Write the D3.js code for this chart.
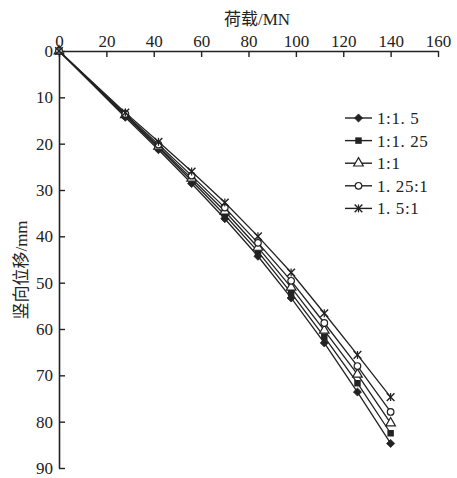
<!DOCTYPE html>
<html>
<head>
	<meta charset="utf-8">
	<title>荷载-竖向位移</title>
	<script src="https://d3js.org/d3.v7.min.js" charset="utf-8"></script>
	<style>
		body { margin: 0; background: #fff; }
		svg text { font-family: "Liberation Serif", "Noto Sans CJK SC", serif; fill: #222; }
	</style>
</head>
<body>
	<script>
		// load (MN) at each step
		var loads = [0, 28, 42, 56, 70, 84, 98, 112, 126, 140];

		// vertical displacement (mm) for each ratio
		var s1 = [0, 14.3, 21.3, 28.6, 36.2, 44.3, 53.3, 63.0, 73.6, 84.7];  // 1:1.5
		var s2 = [0, 14.0, 20.9, 28.0, 35.4, 43.3, 52.2, 61.7, 71.7, 82.5];  // 1:1.25
		var s3 = [0, 13.8, 20.6, 27.5, 34.6, 42.4, 51.0, 60.3, 69.8, 80.3];  // 1:1
		var s4 = [0, 13.6, 20.2, 26.9, 33.8, 41.4, 49.6, 58.7, 68.0, 77.9];  // 1.25:1
		var s5 = [0, 13.3, 19.6, 26.0, 32.7, 40.0, 47.8, 56.6, 65.6, 74.7];  // 1.5:1

		var seriesNames = ["1:1. 5", "1:1. 25", "1:1", "1. 25:1", "1. 5:1"];
		var seriesSymbols = ["diamond", "square", "triangle", "circle", "star"];

		var xTicks = [0, 20, 40, 60, 80, 100, 120, 140, 160];
		var yTicks = [0, 10, 20, 30, 40, 50, 60, 70, 80, 90];

		var series = [s1, s2, s3, s4, s5].map(function(vals, i) {
			return {
				name: seriesNames[i],
				symbol: seriesSymbols[i],
				points: vals.map(function(v, j) { return {load: loads[j], disp: v}; })
			};
		});

		var svgWidth = 457,
			svgHeight = 478,
			margin = {top: 51, right: 19, bottom: 10, left: 59},
			width = svgWidth - margin.left - margin.right,
			height = 468 - margin.top,
			svg = d3.select("body")
				.append("svg")
				.attr("width", svgWidth)
				.attr("height", svgHeight),
			g = svg.append("g")
				.attr("transform", "translate(" + margin.left + "," + margin.top + ")");

		var x = d3.scaleLinear().domain([0, 160]).range([0, width]),
			y = d3.scaleLinear().domain([0, 90]).range([0, height]);

		var ink = "#222";

		// axes: x on top, y on left, ticks pointing inward
		var xAxis = g.append("g")
			.call(d3.axisTop(x).tickValues(xTicks).tickSize(-6).tickPadding(4).tickSizeOuter(0));
		var yAxis = g.append("g")
			.call(d3.axisLeft(y).tickValues(yTicks).tickSize(-6).tickPadding(6).tickSizeOuter(0));

		[xAxis, yAxis].forEach(function(a) {
			a.select(".domain").attr("stroke", ink).attr("stroke-width", 1.6);
			a.selectAll(".tick line").attr("stroke", ink).attr("stroke-width", 1.4);
			a.selectAll(".tick text")
				.attr("font-size", 17)
				.attr("font-family", "Liberation Serif, serif")
				.attr("fill", ink);
		});

		// axis titles
		svg.append("text")
			.attr("x", 257)
			.attr("y", 25)
			.attr("text-anchor", "middle")
			.attr("font-size", 17)
			.text("荷载/MN");

		svg.append("text")
			.attr("transform", "translate(27,270) rotate(-90)")
			.attr("text-anchor", "middle")
			.attr("font-size", 17)
			.text("竖向位移/mm");

		// marker drawing
		function drawMarker(sel, symbol) {
			if (symbol === "diamond") {
				sel.append("path").attr("d", d3.symbol().type(d3.symbolDiamond2).size(42)())
					.attr("fill", ink).attr("stroke", ink).attr("stroke-width", 0.8);
			} else if (symbol === "square") {
				sel.append("path").attr("d", d3.symbol().type(d3.symbolSquare).size(42)())
					.attr("fill", ink);
			} else if (symbol === "triangle") {
				sel.append("path").attr("d", d3.symbol().type(d3.symbolTriangle).size(40)())
					.attr("fill", "#fff").attr("stroke", ink).attr("stroke-width", 1.2);
			} else if (symbol === "circle") {
				sel.append("circle").attr("r", 3.3)
					.attr("fill", "#fff").attr("stroke", ink).attr("stroke-width", 1.2);
			} else {
				sel.append("path").attr("d", d3.symbol().type(d3.symbolTimes).size(40)())
					.attr("fill", "none").attr("stroke", ink).attr("stroke-width", 1.4);
				sel.append("path").attr("d", "M0,-4V4")
					.attr("stroke", ink).attr("stroke-width", 1.2);
			}
		}

		var line = d3.line()
			.x(function(d) { return x(d.load); })
			.y(function(d) { return y(d.disp); });

		var sg = g.selectAll(".series")
			.data(series)
			.enter().append("g")
			.attr("class", "series");

		sg.append("path")
			.attr("d", function(d) { return line(d.points); })
			.attr("fill", "none")
			.attr("stroke", ink)
			.attr("stroke-width", 1.3);

		sg.each(function(s) {
			d3.select(this).selectAll(".mk")
				.data(s.points)
				.enter().append("g")
				.attr("class", "mk")
				.attr("transform", function(d) { return "translate(" + x(d.load) + "," + y(d.disp) + ")"; })
				.each(function() { drawMarker(d3.select(this), s.symbol); });
		});

		// legend
		var legend = svg.append("g")
			.attr("transform", "translate(345,118)");

		var li = legend.selectAll(".li")
			.data(series)
			.enter().append("g")
			.attr("class", "li")
			.attr("transform", function(d, i) { return "translate(0," + (i * 22.6) + ")"; });

		li.append("line")
			.attr("x1", 0).attr("x2", 27)
			.attr("stroke", ink).attr("stroke-width", 1.4);

		li.append("g")
			.attr("transform", "translate(13.5,0)")
			.each(function(d) { drawMarker(d3.select(this), d.symbol); });

		li.append("text")
			.attr("x", 32)
			.attr("dy", "0.35em")
			.attr("font-size", 17)
			.attr("letter-spacing", 0.6)
			.text(function(d) { return d.name; });
	</script>
</body>
</html>
